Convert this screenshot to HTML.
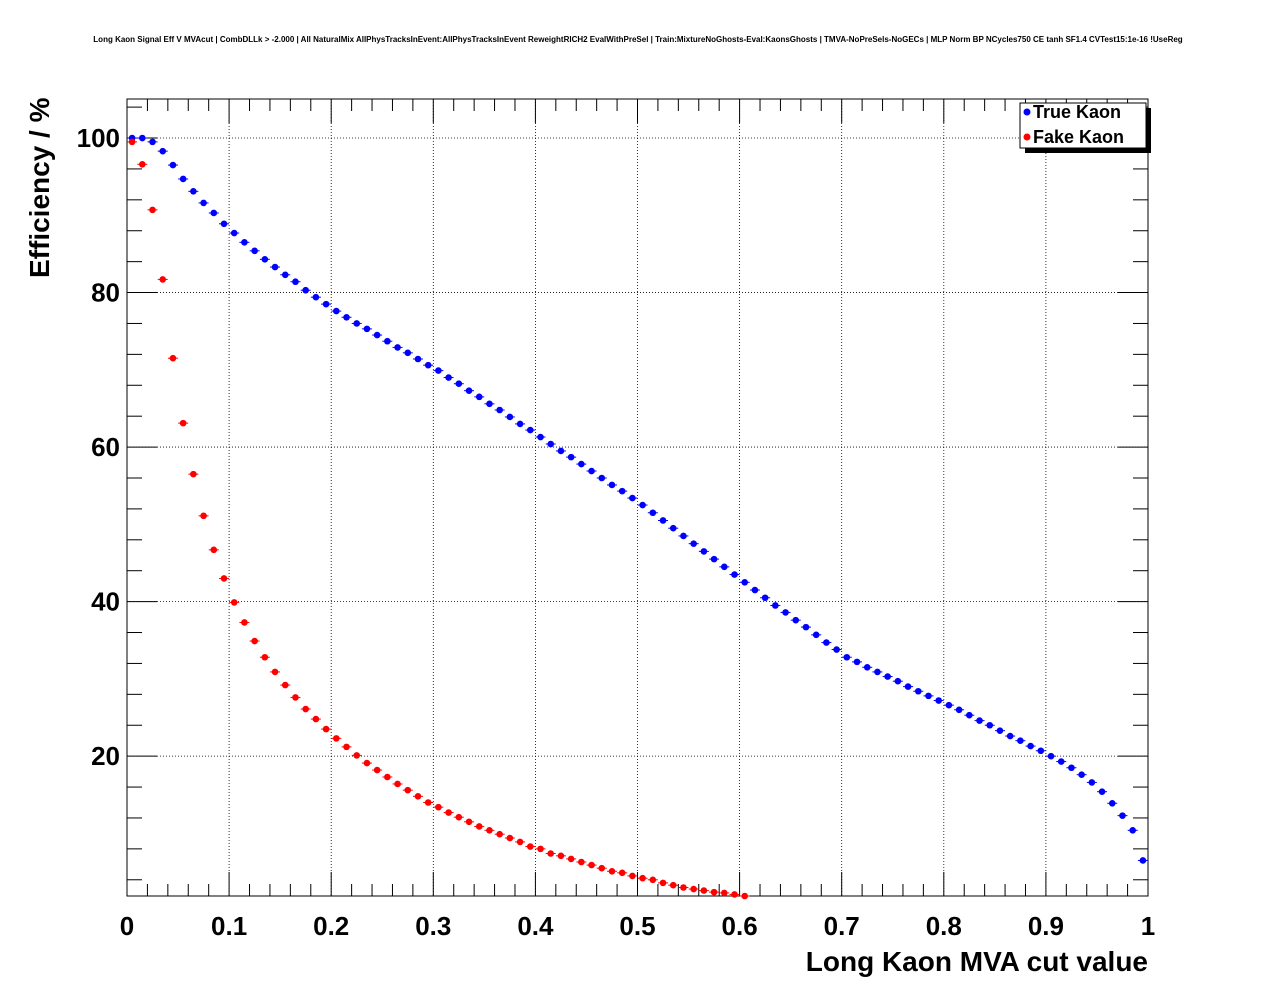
<!DOCTYPE html>
<html><head><meta charset="utf-8"><style>
body{margin:0;background:#fff;}
svg{display:block;font-family:"Liberation Sans",sans-serif;}
</style></head><body>
<svg id="chart" width="1276" height="996">
<text x="638" y="42" text-anchor="middle" font-size="8" font-weight="bold">Long Kaon Signal Eff V MVAcut | CombDLLk &gt; -2.000 | All NaturalMix AllPhysTracksInEvent:AllPhysTracksInEvent ReweightRICH2 EvalWithPreSel | Train:MixtureNoGhosts-Eval:KaonsGhosts | TMVA-NoPreSels-NoGECs | MLP Norm BP NCycles750 CE tanh SF1.4 CVTest15:1e-16 !UseReg</text>
<g id="grid"></g><g id="axes"></g><g id="marks"></g>
<text x="1148" y="971" text-anchor="end" font-size="28" font-weight="bold">Long Kaon MVA cut value</text>
<text transform="translate(49,278) rotate(-90)" font-size="28" font-weight="bold">Efficiency / %</text>
<g>
<rect x="1025" y="108" width="126" height="45" fill="#000"/>
<rect x="1020" y="103" width="126" height="45" fill="#fff" stroke="#000"/>
<circle cx="1027" cy="112" r="3.5" fill="#0000ff"/>
<text x="1033" y="118" font-size="18" font-weight="bold">True Kaon</text>
<circle cx="1027" cy="137" r="3.5" fill="#ff0000"/>
<text x="1033" y="143" font-size="18" font-weight="bold">Fake Kaon</text>
</g>
</svg>
<script>
const trueKaon=[100,100,99.5,98.3,96.5,94.7,93.1,91.6,90.3,88.9,87.7,86.5,85.4,84.3,83.3,82.3,81.4,80.3,79.4,78.5,77.6,
76.8,76.0,75.3,74.5,73.7,72.9,72.2,71.4,70.6,69.9,
69.0,68.2,67.3,66.5,65.6,64.8,63.9,63.0,62.2,61.3,
60.4,59.5,58.7,57.8,56.9,56.0,55.1,54.3,53.4,52.5,
51.5,50.5,49.5,48.5,47.5,46.5,45.5,44.5,43.5,42.5,
41.5,40.5,39.5,38.6,37.6,36.7,35.7,34.7,33.8,32.8,
32.2,31.5,30.9,30.3,29.7,29.0,28.4,27.8,27.2,26.6,
26.0,25.3,24.6,24.0,23.3,22.6,22.0,21.3,20.7,20.0,
19.3,18.5,17.6,16.6,15.4,13.9,12.3,10.4,6.5];
const fakeKaon=[99.5,96.6,90.7,81.7,71.5,63.1,56.5,51.1,46.7,43.0,39.9,37.3,34.9,32.8,30.9,29.2,27.6,26.1,24.8,23.5,
22.3,21.2,20.1,19.1,18.2,17.3,16.4,15.6,14.8,14.0,13.4,12.7,12.1,11.5,10.9,10.4,9.9,9.4,8.9,8.3,
8.0,7.4,7.1,6.7,6.3,5.9,5.5,5.1,4.9,4.5,4.2,4.0,3.6,3.3,3.0,2.8,2.6,2.4,2.3,2.1,1.9];
const xTicks=[0,0.1,0.2,0.3,0.4,0.5,0.6,0.7,0.8,0.9,1];
const xTickLabels=["0","0.1","0.2","0.3","0.4","0.5","0.6","0.7","0.8","0.9","1"];
const yTicks=[20,40,60,80,100];
const yTickLabels=["20","40","60","80","100"];
const L=127,R=1148,T=99,B=896,YMIN=1.9,YMAX=105.05;
const sx=v=>L+(R-L)*v;
const sy=v=>B-(B-T)*(v-YMIN)/(YMAX-YMIN);
const NS="http://www.w3.org/2000/svg";
function mk(tag,attrs,parent){const e=document.createElementNS(NS,tag);for(const k in attrs)e.setAttribute(k,attrs[k]);parent.appendChild(e);return e;}
const grid=document.getElementById('grid'),axes=document.getElementById('axes'),marks=document.getElementById('marks');
xTicks.forEach((t,i)=>{
 const g=mk('line',{x1:sx(t),x2:sx(t),y1:T,y2:B,stroke:'#000','stroke-dasharray':'1,2','stroke-width':0.8},grid);
 
 const tx=mk('text',{x:sx(t),y:935,'text-anchor':'middle','font-size':26,'font-weight':'bold'},axes);
 tx.textContent=xTickLabels[i];
 
});
for(let v=0;v<=1.0001;v+=0.02){const maj=Math.abs(v*10-Math.round(v*10))<1e-6;const l=maj?24:12;
 mk('line',{x1:sx(v),x2:sx(v),y1:B,y2:B-l,stroke:'#000'},axes);mk('line',{x1:sx(v),x2:sx(v),y1:T,y2:T+l,stroke:'#000'},axes);}
yTicks.forEach((t,i)=>{
 const g=mk('line',{x1:L,x2:R,y1:sy(t),y2:sy(t),stroke:'#000','stroke-dasharray':'1,2','stroke-width':0.8},grid);
 
 const tx=mk('text',{x:120,y:sy(t)+9,'text-anchor':'end','font-size':26,'font-weight':'bold'},axes);
 tx.textContent=yTickLabels[i];
 
});
for(let v=4;v<=104;v+=4){if(v<YMIN||v>YMAX)continue;const l=(v%20===0)?30:15;
 mk('line',{x1:L,x2:L+l,y1:sy(v),y2:sy(v),stroke:'#000'},axes);mk('line',{x1:R,x2:R-l,y1:sy(v),y2:sy(v),stroke:'#000'},axes);}
const fr=mk('rect',{x:L,y:T,width:R-L,height:B-T,fill:'none',stroke:'#000'},axes);

function series(arr,color,name){arr.forEach((v,i)=>{const x=sx(0.005+0.01*i),y=sy(v);
 if(v<YMIN)return;
 mk('line',{x1:x-5,x2:x+5,y1:y,y2:y,stroke:color},marks);
 const c=mk('circle',{cx:x,cy:y,r:3.3,fill:color},marks);
 });}
series(trueKaon,'#0000ff','true-kaon-point');
series(fakeKaon,'#ff0000','fake-kaon-point');
</script>
</body></html>
